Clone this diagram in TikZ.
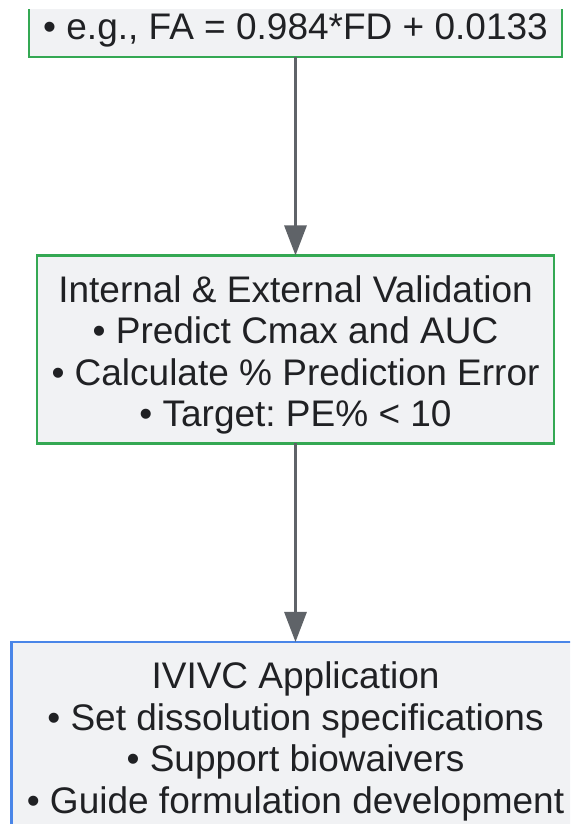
\documentclass[tikz,border=0pt]{standalone}
\usepackage{fontspec}
\setmainfont{Liberation Sans}
\usetikzlibrary{arrows.meta,positioning}

\definecolor{boxfill}{HTML}{F1F2F4}
\definecolor{greenline}{HTML}{34A853}
\definecolor{blueline}{HTML}{4A86E8}
\definecolor{arrowgray}{HTML}{5F6368}
\definecolor{textgray}{HTML}{202124}

\begin{document}
\frenchspacing
\begin{tikzpicture}[
    x=1pt, y=1pt,
    node distance=198.5pt,
    stage/.style={draw, fill=boxfill, line width=2.5pt, text=textgray,
        align=center, inner sep=0pt, outer sep=0pt,
        font=\fontsize{37}{41.5}\selectfont},
    flow/.style={draw=arrowgray, line width=3pt,
        -{Triangle[length=30pt,width=22pt]}},
 ]
    \useasboundingbox (0,0) rectangle (570,824);
    \clip (0,0) rectangle (570,814);

    \node[stage, draw=greenline, minimum width=533pt,
        text height=70pt, text depth=17pt, anchor=base]
        (Fit) at (295.5,784) {• e.g., FA = 0.984*FD + 0.0133};

    \node[stage, draw=greenline, minimum width=517pt,
        text height=171.5pt, text depth=16.5pt,
        below=of Fit] (Valid)
        {Internal \& External Validation\\
         • Predict Cmax and AUC\\
         • Calculate \% Prediction Error\\
         • Target: PE\% < 10};
    \draw[flow] (Fit.south) -- (Valid.north);

    \node[stage, draw=blueline, minimum width=568pt,
        text height=171.5pt, text depth=16.5pt,
        below=of Valid] (Apply)
        {IVIVC Application\\
         • Set dissolution specifications\\
         • Support biowaivers\\
         • Guide formulation development};
    \draw[flow] (Valid.south) -- (Apply.north);

\end{tikzpicture}
\end{document}
